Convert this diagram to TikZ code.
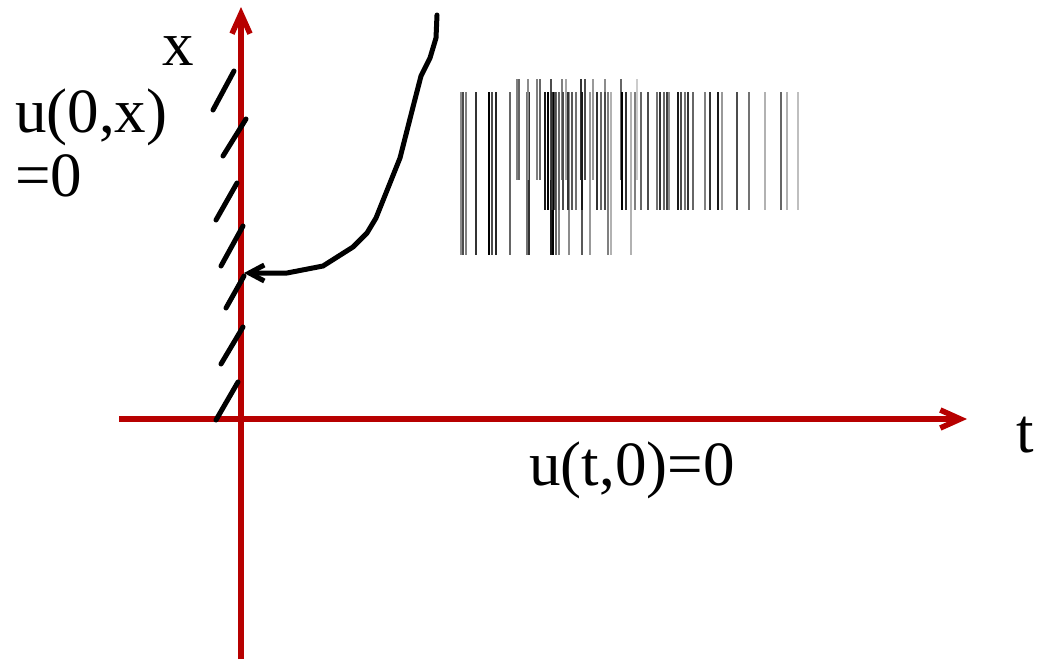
\documentclass[tikz,border=0pt]{standalone}
\usepackage{fontspec}
\setmainfont{Liberation Serif}
\usetikzlibrary{arrows.meta}
\definecolor{axisred}{RGB}{183,0,0}

\begin{document}
\begin{tikzpicture}[x=1pt, y=-1pt,
    axis/.style={draw=axisred, line width=5.5pt, -{Straight Barb[length=20pt, width=18pt]}},
    hatch/.style={line width=5pt, line cap=round},
    curve/.style={line width=5pt, line cap=round, line join=round, -{Straight Barb[length=15pt, width=16pt]}},
    lbl/.style={inner sep=0pt, font=\fontsize{63}{64}\selectfont},
    bar/.style={line width=2.2pt}
]
\useasboundingbox (0,0) rectangle (1039,659);

% axes
\coordinate (xbot) at (241,659);
\coordinate (xtop) at (241,7);
\coordinate (tleft) at (119,419);
\coordinate (tright) at (967,419);
\draw[axis] (xbot) -- (xtop);
\draw[axis] (tleft) -- (tright);

% labels
\node[lbl, anchor=base] (xlab) at (178,65) {x};
\node[lbl, anchor=base] (tlab) at (1025,452) {t};
\node[lbl, anchor=base] (bc) at (632,485) {u(t,0)=0};
\node[lbl, anchor=north west, align=left] (ic) at (15,89) {u(0,x)\\=0};

% hatching along the x axis
\foreach \xa/\ya/\xb/\yb in {213/110/234/71, 223/156/246/119, 216/220/237/183,
    221/266/243/226, 226/308/244/276, 221/364/243/327, 216/420/238/382}
  \draw[hatch] (\xa,\ya) -- (\xb,\yb);

% characteristic curve
\coordinate (top) at (437,15);
\coordinate (hit) at (244,273);
\draw[curve] (top) -- (436,38) -- (430,58) -- (421,76) -- (413,107) -- (400,158)
  -- (376,218) -- (367,233) -- (353,247) -- (323,266) -- (287,273) -- (hit);

% barcode
\foreach \x/\g in {461/45, 463/70, 466/50, 476/80, 489/100, 492/70, 496/85, 510/60,
    527/55, 529/80, 551/90, 553/100, 556/60, 559/50, 569/45, 582/65, 590/40,
    608/50, 611/30, 631/30}
  \draw[bar, black!\g] (\x,92) -- (\x,255);
\foreach \x/\g in {517/50, 519/60, 528/45, 537/50, 540/60, 551/70, 562/50, 566/35,
    581/80, 585/70, 593/40, 605/45, 621/60, 637/20}
  \draw[bar, black!\g] (\x,79) -- (\x,180);
\foreach \x/\g in {545/90, 548/100, 552/80, 555/70, 559/60, 563/70, 568/80, 572/65,
    576/55, 582/90, 597/80, 601/60, 605/70, 622/100, 626/80, 635/50, 641/60,
    648/70, 657/55, 660/80, 664/60, 667/75, 669/45, 678/90, 681/70, 685/55,
    688/80, 693/60, 705/50, 710/80, 718/90, 722/40, 737/70, 749/55, 765/30,
    781/60, 787/30, 798/25}
  \draw[bar, black!\g] (\x,92) -- (\x,210);
\end{tikzpicture}
\end{document}
